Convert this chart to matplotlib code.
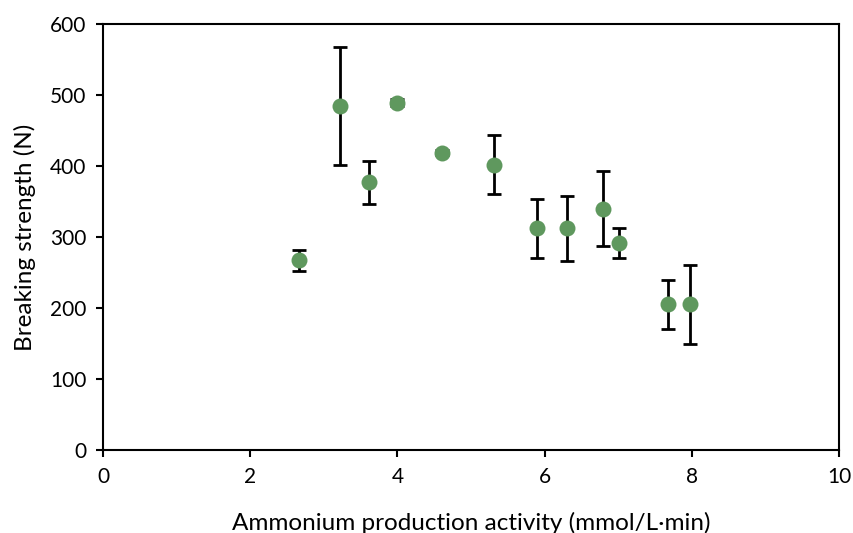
import matplotlib
matplotlib.use("Agg")
import matplotlib.pyplot as plt

activity = [2.66, 3.22, 3.61, 3.99, 4.61, 5.31, 5.90, 6.30, 6.79, 7.01, 7.67, 7.97]
strength = [267, 484, 377, 489, 419, 402, 312, 312, 340, 292, 205, 205]
err = [15, 83, 30, 5, 4, 42, 41, 46, 53, 21, 35, 56]

x_ticks = [0, 2, 4, 6, 8, 10]
y_ticks = [0, 100, 200, 300, 400, 500, 600]

plt.rcParams['font.family'] = ['Lato', 'DejaVu Sans']

fig = plt.figure(figsize=(8.54, 5.33), dpi=100)
ax = fig.add_axes([103/854, 83/533, (839-103)/854, (450-24)/533])

ax.errorbar(activity, strength, yerr=err, fmt='none', ecolor='black',
            elinewidth=2, capsize=4.8, capthick=2, zorder=2)
ax.plot(activity, strength, 'o', color='#5f985e', markersize=11.5,
        markeredgewidth=0, zorder=3)

ax.set_xlim(0, 10)
ax.set_ylim(0, 600)
ax.set_xticks(x_ticks)
ax.set_yticks(y_ticks)
ax.tick_params(axis='both', direction='out', length=5, width=1.5,
               labelsize=15, pad=7, colors='black')
for s in ax.spines.values():
    s.set_linewidth(1.5)
    s.set_color('black')

ax.set_xlabel('Ammonium production activity (mmol/L\u00b7min)', fontsize=17.5, labelpad=18)
ax.set_ylabel('Breaking strength (N)', fontsize=17.5, labelpad=10)

fig.savefig('out.png', dpi=100)
